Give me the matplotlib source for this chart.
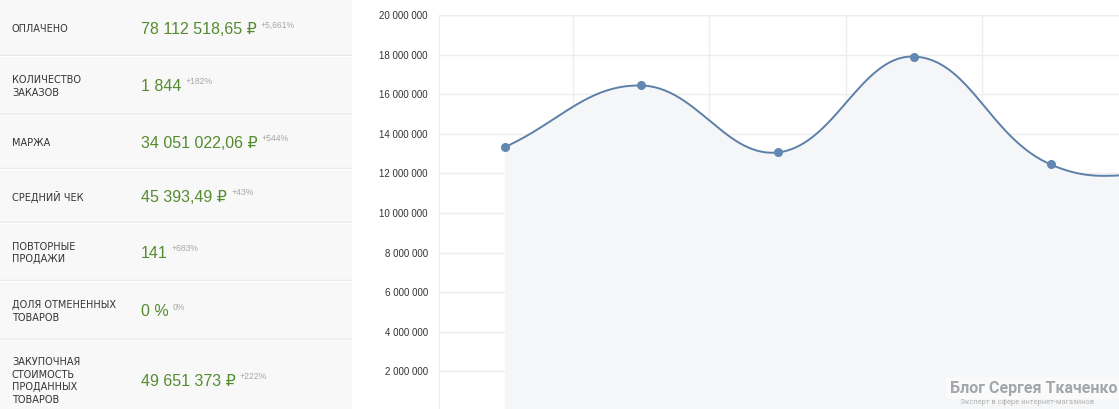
import matplotlib
matplotlib.use("Agg")
import matplotlib.pyplot as plt
import numpy as np

# KPI panel
labels = ["ОПЛАЧЕНО", "КОЛИЧЕСТВО\nЗАКАЗОВ", "МАРЖА", "СРЕДНИЙ ЧЕК",
          "ПОВТОРНЫЕ\nПРОДАЖИ", "ДОЛЯ ОТМЕНЕННЫХ\nТОВАРОВ",
          "ЗАКУПОЧНАЯ\nСТОИМОСТЬ\nПРОДАННЫХ\nТОВАРОВ"]
values = ["78 112 518,65 ₽", "1 844", "34 051 022,06 ₽", "45 393,49 ₽",
          "141", "0 %", "49 651 373 ₽"]
changes = ["+5,661%", "+182%", "+544%", "+43%", "+683%", "0%", "+222%"]

# line chart (last point lies past the right edge)
sales = [13_320_000, 16_440_000, 13_060_000, 17_900_000, 12_450_000, 11_950_000]
yticks = np.arange(2_000_000, 20_000_001, 2_000_000)

W, H = 1119, 409
fig = plt.figure(figsize=(W / 100, H / 100), dpi=100)
fig.patch.set_facecolor("white")

# ---- left panel ----
lp = fig.add_axes([0, 0, 352 / W, 1])
lp.set_xlim(0, 352)
lp.set_ylim(H, 0)
lp.set_facecolor("#f8f8f8")
lp.set_xticks([])
lp.set_yticks([])
for s in lp.spines.values():
    s.set_visible(False)

row_edges = [0, 55, 114, 168, 222, 280, 339, 420]
for b in row_edges[1:-1]:
    lp.axhline(b, color="#e8e8e8", lw=1)
    lp.axhline(b + 1.2, color="white", lw=0.8)

green = "#558b2f"
for i, (lab, val, ch) in enumerate(zip(labels, values, changes)):
    yc = (row_edges[i] + row_edges[i + 1]) / 2 + 2
    if i == len(labels) - 1:
        yc = 381
    lp.text(12, yc, lab, fontsize=7.0, color="#333333", va="center", ha="left",
            family=["DejaVu Sans"], linespacing=1.3)
    t = lp.text(141, yc, val, fontsize=11.5, color=green, va="center", ha="left",
                family=["Liberation Sans", "DejaVu Sans"])
    lp.annotate(ch, xy=(1, 0.8), xycoords=t, xytext=(3, 0), textcoords="offset points",
                fontsize=6.2, color="#a8a8a8", va="center", ha="left",
                family=["Liberation Sans", "DejaVu Sans"])

# ---- chart ----
left, right, top, bottom = 439, 1119, 15, 411
ax = fig.add_axes([left / W, (H - bottom) / H, (right - left) / W, (bottom - top) / H])
ax.set_xlim(-0.48, 4.5)
ax.set_ylim(0, 20_000_000)
ax.set_facecolor("white")
for s in ax.spines.values():
    s.set_visible(False)
ax.spines["left"].set_visible(True)
ax.spines["left"].set_color("#eeeeee")

ax.set_yticks(yticks)
ax.set_yticklabels([f"{v:,}".replace(",", " ") for v in yticks],
                   fontsize=7, color="#333333", family=["Liberation Sans", "DejaVu Sans"])
ax.set_xticks([0.5, 1.5, 2.5, 3.5])
ax.set_xticklabels([])
ax.tick_params(length=0, pad=8)
ax.grid(True, color="#ededed", lw=1)
ax.axhline(20_000_000, color="#ededed", lw=1)
ax.set_axisbelow(True)

# Chart.js-style bezier (tension 0.4) built in display space
xs = np.arange(len(sales))
pts = ax.transData.transform(np.column_stack([xs, sales]))
bb = ax.bbox
tension = 0.4
ctrl = []
n = len(pts)
for i in range(n):
    prev = pts[i - 1] if i > 0 else pts[i]
    cur = pts[i]
    nxt = pts[i + 1] if i < n - 1 else pts[i]
    d01 = np.hypot(*(cur - prev))
    d12 = np.hypot(*(nxt - cur))
    tot = d01 + d12
    s01 = d01 / tot if tot else 0
    s12 = d12 / tot if tot else 0
    cp = cur - tension * s01 * (nxt - prev)
    cn = cur + tension * s12 * (nxt - prev)
    cp = np.clip(cp, [bb.x0, bb.y0], [bb.x1, bb.y1])
    cn = np.clip(cn, [bb.x0, bb.y0], [bb.x1, bb.y1])
    ctrl.append((cp, cn))

curve = []
tt = np.linspace(0, 1, 60)[:, None]
for i in range(n - 1):
    p0, p3 = pts[i], pts[i + 1]
    p1, p2 = ctrl[i][1], ctrl[i + 1][0]
    seg = ((1 - tt) ** 3) * p0 + 3 * ((1 - tt) ** 2) * tt * p1 + 3 * (1 - tt) * tt ** 2 * p2 + tt ** 3 * p3
    curve.append(seg if i == 0 else seg[1:])
curve = ax.transData.inverted().transform(np.vstack(curve))

ax.fill_between(curve[:, 0], curve[:, 1], 0, color="#f5f6f8", lw=0, zorder=1)
ax.plot(curve[:, 0], curve[:, 1], color="#5c80a8", lw=1.4, zorder=3)
ax.plot(xs, sales, "o", color="#6088b3", ms=5.5, zorder=4, clip_on=True)

# watermark
fig.text(1117 / W, 1 - 388 / H, "Блог Сергея Ткаченко", fontsize=11.5, fontweight="bold",
         color="#a3a7ab", va="center", ha="right",
         family=["Roboto", "DejaVu Sans"],
         bbox=dict(boxstyle="square,pad=0.25", fc="white", ec="none", alpha=0.5))
fig.text(960 / W, 1 - 403 / H, "Эксперт в сфере интернет-магазинов", fontsize=5.4,
         color="#b3b3b3", va="center", ha="left",
         family=["Roboto", "DejaVu Sans"])

fig.savefig("out.png", dpi=100, facecolor="white")
